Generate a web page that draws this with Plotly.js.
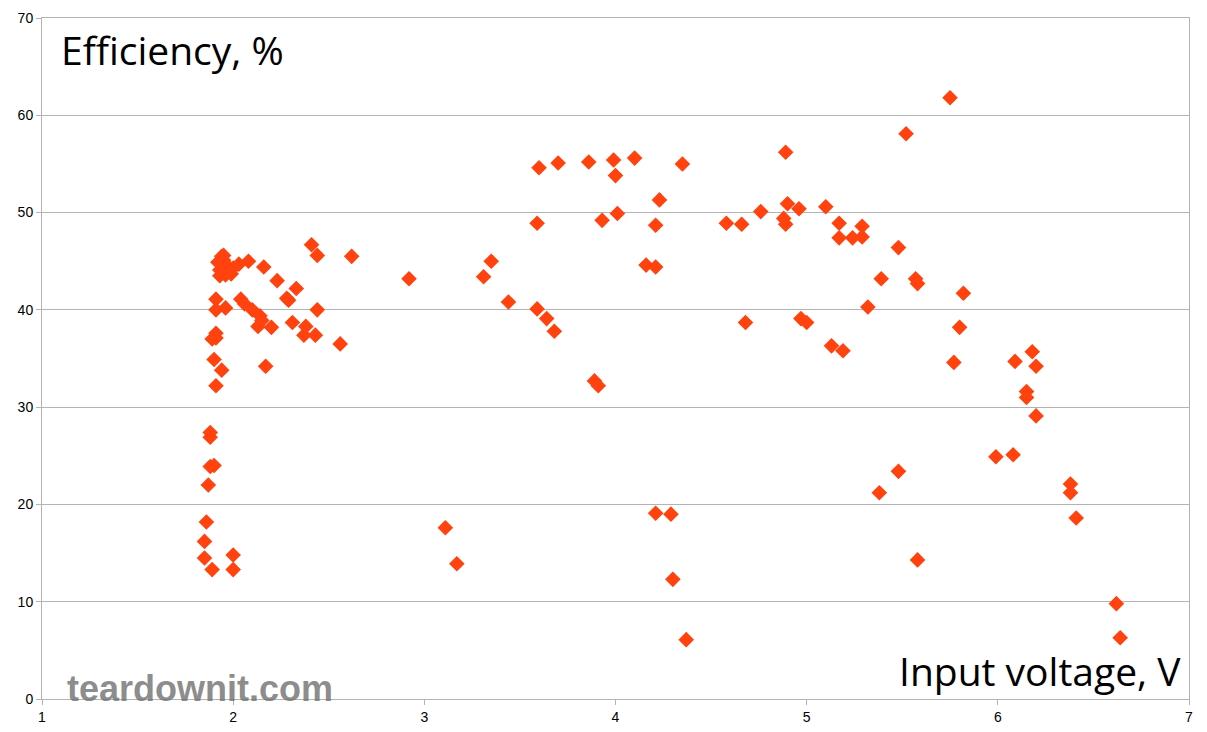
<!DOCTYPE html>
<html>
<head>
<meta charset="utf-8">
<script src="https://cdn.plot.ly/plotly-3.0.1.min.js"></script>
<style>
  html, body { margin: 0; padding: 0; background: #fff; }
  #chart { width: 1207px; height: 732px; }
</style>
</head>
<body>
<div id="chart"></div>
<script>
// input voltage (V) and efficiency (%)
const voltage = [
  1.85, 1.85, 1.86, 1.89, 1.87, 1.88, 1.90, 1.88, 1.88, 2.00, 2.00,
  1.90, 1.94, 1.91, 1.89, 1.91, 1.91, 1.91, 1.91, 1.96,
  1.92, 1.94, 1.95, 1.93, 1.96, 1.99, 1.97, 2.00, 2.03, 2.08, 1.93, 1.95, 1.98,
  2.04, 2.06, 2.10, 2.14, 2.15, 2.13, 2.20, 2.17, 2.16, 2.23, 2.28, 2.29,
  2.33, 2.31, 2.37, 2.38, 2.43, 2.44, 2.41, 2.44, 2.56, 2.62,
  2.92, 3.11, 3.17, 3.31, 3.35, 3.44,
  3.60, 3.70, 3.86, 3.99, 4.10, 4.35, 4.00, 4.23, 3.59, 3.93, 4.01, 4.21,
  4.16, 4.21, 3.59, 3.64, 3.68, 3.89, 3.91, 4.21, 4.29, 4.30, 4.37,
  4.89, 4.58, 4.66, 4.76, 4.90, 4.96, 4.88, 4.89, 5.10, 5.17, 5.17, 5.24,
  5.29, 5.29, 5.48,
  4.68, 4.97, 5.00, 5.13, 5.19, 5.32, 5.39, 5.57, 5.58, 5.52, 5.75, 5.80,
  5.82, 5.77, 5.38, 5.48, 5.58, 5.99, 6.08, 6.09, 6.15, 6.15, 6.18, 6.20,
  6.20, 6.38, 6.38, 6.41, 6.62, 6.64
]
const efficiency = [
  16.2, 14.5, 18.2, 13.3, 22.0, 23.9, 24.0, 26.9, 27.4, 14.8, 13.3,
  34.9, 33.8, 32.2, 37.0, 37.6, 37.1, 41.1, 40.0, 40.2,
  44.9, 45.5, 45.1, 44.1, 43.6, 43.7, 44.5, 44.3, 44.7, 45.0, 43.5, 45.6, 44.0,
  41.1, 40.6, 40.0, 39.4, 38.9, 38.3, 38.2, 34.2, 44.4, 43.0, 41.2, 41.0,
  42.2, 38.7, 37.4, 38.3, 37.4, 40.0, 46.7, 45.6, 36.5, 45.5,
  43.2, 17.6, 13.9, 43.4, 45.0, 40.8,
  54.6, 55.1, 55.2, 55.4, 55.6, 55.0, 53.8, 51.3, 48.9, 49.2, 49.9, 48.7,
  44.6, 44.4, 40.1, 39.1, 37.8, 32.7, 32.2, 19.1, 19.0, 12.3, 6.1,
  56.2, 48.9, 48.8, 50.1, 50.9, 50.4, 49.4, 48.8, 50.6, 48.9, 47.4, 47.4,
  47.5, 48.6, 46.4,
  38.7, 39.1, 38.7, 36.3, 35.8, 40.3, 43.2, 43.2, 42.7, 58.1, 61.8, 38.2,
  41.7, 34.6, 21.2, 23.4, 14.3, 24.9, 25.1, 34.7, 31.6, 31.0, 35.7, 34.2,
  29.1, 22.1, 21.2, 18.6, 9.8, 6.3
]
const xTicks = [1, 2, 3, 4, 5, 6, 7]
const yTicks = [0, 10, 20, 30, 40, 50, 60, 70]

const data = [{
  x: voltage,
  y: efficiency,
  type: 'scatter',
  mode: 'markers',
  marker: { symbol: 'diamond', size: 12, color: '#ff420e' },
  hoverinfo: 'x+y'
}]

const axisFont = { family: 'Liberation Sans, Arial, sans-serif', size: 14, color: '#000' }
const bigFont = { family: 'Open Sans, Noto Sans, sans-serif', size: 39, color: '#000' }

const layout = {
  width: 1207,
  height: 732,
  margin: { l: 42, r: 18, t: 18, b: 33 },
  paper_bgcolor: '#fff',
  plot_bgcolor: '#fff',
  showlegend: false,
  xaxis: {
    range: [1, 7],
    tickvals: xTicks,
    ticktext: xTicks.map(String),
    showgrid: false,
    zeroline: false,
    showline: true,
    mirror: true,
    linecolor: '#b3b3b3',
    linewidth: 1,
    ticks: 'outside',
    ticklen: 5,
    tickcolor: '#b3b3b3',
    tickfont: axisFont
  },
  yaxis: {
    range: [0, 70],
    tickvals: yTicks,
    ticktext: yTicks.map(String),
    showgrid: true,
    gridcolor: '#b3b3b3',
    zeroline: false,
    showline: true,
    mirror: true,
    linecolor: '#b3b3b3',
    linewidth: 1,
    ticks: 'outside',
    ticklen: 5,
    tickcolor: '#b3b3b3',
    tickfont: axisFont
  },
  annotations: [
    {
      text: 'Efficiency, %',
      xref: 'paper', yref: 'paper',
      x: 0.015, y: 0.995,
      xanchor: 'left', yanchor: 'top',
      showarrow: false,
      font: bigFont
    },
    {
      text: 'Input voltage, V',
      xref: 'paper', yref: 'paper',
      x: 0.995, y: 0.0,
      xanchor: 'right', yanchor: 'bottom',
      showarrow: false,
      font: bigFont
    },
    {
      text: '<b>teardownit.com</b>',
      xref: 'paper', yref: 'paper',
      x: 0.02, y: -0.018,
      xanchor: 'left', yanchor: 'bottom',
      showarrow: false,
      font: { family: 'Liberation Sans, Arial, sans-serif', size: 36, color: 'rgba(110,110,110,0.8)' }
    }
  ]
}

Plotly.newPlot('chart', data, layout, { staticPlot: true })
</script>
</body>
</html>
